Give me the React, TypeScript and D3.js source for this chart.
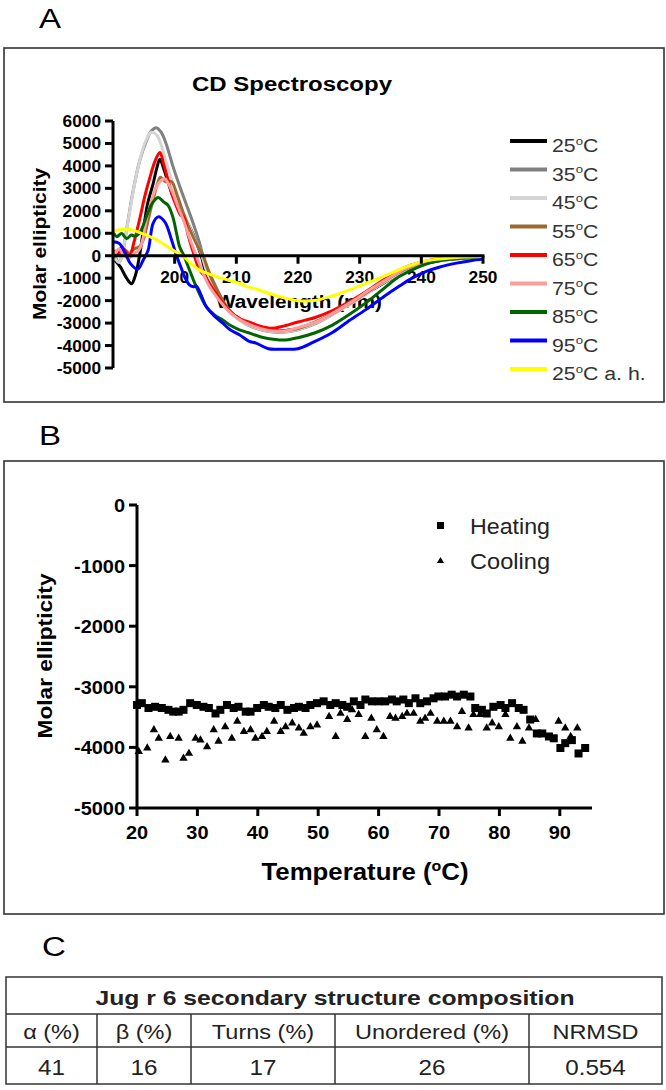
import React from 'react';
import * as d3 from 'd3';

// ---------- Panel A data (wavelength nm, molar ellipticity) ----------
const c25: [number, number][] = [[190.3,-200],[191.2,-500],[192.2,-1000],[193,-1250],[193.6,-900],[194.3,0],[195,1300],[195.6,2300],[196.5,3200],[197.1,3900],[197.6,4300],[198.2,3900],[198.9,3300],[199.8,2600],[200.8,2100],[202,1500],[203,950],[204.3,0],[205.2,-900],[206.5,-1600],[207.8,-2100],[209,-2500],[210.5,-2800],[212,-3050],[213.5,-3200],[215,-3300],[217,-3350],[219,-3300],[221,-3150],[223,-2950],[225,-2650],[228,-2200],[231,-1700],[234,-1200],[237,-700],[240,-400],[243,-220],[246,-130],[250,-60]];
const c35: [number, number][] = [[190.3,0],[191,-300],[191.6,200],[192.4,1500],[193.2,2800],[194.3,4200],[195.4,5100],[196.2,5550],[197,5700],[197.8,5500],[198.6,5000],[199.7,4000],[200.8,3100],[202,2200],[203,1450],[204,600],[204.6,0],[205.4,-600],[206.2,-1100],[207.8,-2000],[209,-2500],[210.5,-2850],[212,-3100],[214,-3300],[216,-3400],[218,-3400],[220,-3300],[223,-3000],[226,-2550],[229,-2050],[232,-1500],[235,-1000],[238,-550],[241,-300],[244,-170],[247,-100],[250,-50]];
const c45: [number, number][] = [[190.3,-100],[191,-300],[191.8,500],[192.6,1800],[193.5,3200],[194.3,4200],[195.3,5100],[196.2,5500],[197,5400],[197.6,5100],[198.6,4200],[199.7,3200],[201,2200],[202.4,1300],[203.5,600],[204.3,100],[205.2,-700],[206.5,-1500],[208,-2200],[209.5,-2650],[211,-2950],[213,-3200],[215,-3350],[217,-3400],[219,-3350],[221,-3200],[224,-2850],[227,-2400],[230,-1900],[233,-1350],[236,-850],[239,-450],[242,-250],[245,-150],[250,-60]];
const c55: [number, number][] = [[190.3,200],[191,0],[191.8,300],[192.6,100],[193.4,300],[194.3,400],[194.9,700],[195.8,1700],[196.5,2500],[197.2,3200],[197.7,3500],[198.5,3300],[199.5,3300],[200.4,2700],[201.4,1900],[202.4,1200],[203.5,550],[204.6,0],[205.5,-700],[206.8,-1500],[208,-2100],[209.5,-2600],[211,-2900],[213,-3150],[215,-3300],[217,-3350],[219,-3300],[221,-3150],[224,-2800],[227,-2350],[230,-1850],[233,-1300],[236,-800],[239,-420],[242,-230],[245,-130],[250,-50]];
const c65: [number, number][] = [[190.2,250],[190.8,0],[191.4,400],[192,200],[192.7,0],[193.4,600],[194.3,1600],[195.2,2700],[196,3500],[196.8,4200],[197.6,4600],[198.2,4100],[198.9,3400],[199.6,2700],[200.3,2200],[201,1800],[201.4,1750],[202.2,900],[203.2,0],[204,-600],[205.1,-1000],[206.5,-1600],[207.8,-2100],[209,-2500],[210.5,-2800],[212,-2950],[214,-3150],[215.8,-3230],[217.4,-3150],[220,-2950],[222.8,-2750],[225.5,-2450],[228.3,-2050],[231,-1600],[233.7,-1100],[236,-700],[238.5,-400],[241.8,-180],[245,-100],[247.3,-60],[250,-30]];
const c75: [number, number][] = [[190.3,100],[191,300],[191.8,0],[192.6,-100],[193.4,100],[194.2,250],[194.8,700],[195.4,1600],[196.2,2400],[197,3050],[197.8,3350],[198.4,3430],[199,3200],[199.7,2800],[200.5,2200],[201.4,1600],[202.4,800],[203.5,0],[204.5,-700],[205.5,-1300],[207,-1900],[208.5,-2400],[210,-2750],[212,-3050],[214,-3250],[216,-3350],[218,-3350],[220,-3200],[223,-2950],[226,-2500],[229,-2000],[232,-1450],[235,-950],[238,-500],[241,-250],[244,-130],[247,-80],[250,-40]];
const c85: [number, number][] = [[190,1070],[190.6,850],[191.4,990],[192.2,770],[193,920],[193.5,870],[194.3,1000],[195.4,1730],[196.3,2300],[197.3,2590],[198.2,2400],[198.9,2250],[199.7,1730],[200.3,1000],[200.8,400],[201.5,0],[202.2,-490],[203.5,-1380],[205.1,-2260],[206.5,-2650],[207.8,-2860],[209,-3100],[210.5,-3300],[212,-3430],[214,-3620],[216.3,-3730],[218,-3750],[220,-3650],[222.8,-3430],[225.5,-3100],[228.3,-2620],[231,-2100],[233.7,-1510],[236,-1000],[238,-700],[240,-450],[242.4,-250],[245,-150],[250,-60]];
const c95: [number, number][] = [[190,620],[191,550],[192,100],[192.8,-340],[194,-600],[194.9,-190],[195.7,250],[196.5,1440],[197.3,1730],[198.4,1510],[199.5,700],[200.3,0],[201,-500],[201.6,-930],[202.4,-1300],[203,-1380],[203.5,-1350],[204.2,-1700],[205.1,-2260],[206.5,-2700],[207.8,-3000],[209,-3300],[210.5,-3520],[212,-3800],[213.2,-3890],[215.2,-4140],[217,-4160],[220,-4140],[222.5,-3850],[225.5,-3430],[228,-2950],[231,-2400],[234,-1800],[236.4,-1360],[238.5,-1000],[240.8,-700],[243,-500],[245.7,-330],[248,-220],[250,-150]];
const c25ah: [number, number][] = [[190,1070],[190.8,1150],[191.6,1180],[192.4,1180],[193.2,1140],[194.3,1030],[195.4,920],[196.5,780],[197.6,620],[198.6,450],[199.7,250],[200.6,100],[201.4,-40],[202.6,-330],[204,-640],[205.4,-800],[206.8,-930],[208.6,-1080],[210.5,-1230],[212,-1400],[213.2,-1480],[215,-1650],[217.4,-1850],[220,-2000],[223,-1980],[225,-1830],[227,-1660],[229,-1450],[230.8,-1250],[232.6,-1070],[234.5,-850],[236.4,-620],[238.3,-420],[240.2,-250],[242.4,-160],[244.6,-100],[247,-60],[250,-30]];

const seriesTemps = ['25', '35', '45', '55', '65', '75', '85', '95', '25'];
const seriesSuffix = ['', '', '', '', '', '', '', '', ' a. h.'];
const seriesColors = ['#000000', '#808080', '#d4d4d4', '#9a6a30', '#ff0000', '#ff9c9c', '#006400', '#0000ff', '#ffff00'];
const seriesData = [c25, c35, c45, c55, c65, c75, c85, c95, c25ah];

const aYTicks = [6000, 5000, 4000, 3000, 2000, 1000, 0, -1000, -2000, -3000, -4000, -5000];
const aXTicks = [200, 210, 220, 230, 240, 250];

// ---------- Panel B data (temperature °C, molar ellipticity) ----------
const heating: [number, number][] = [[20,-3300],[20.8,-3270],[21.9,-3350],[23,-3330],[24.1,-3350],[25.2,-3380],[26,-3410],[26.9,-3410],[27.7,-3380],[28.8,-3270],[29.9,-3300],[31,-3330],[31.9,-3350],[33,-3440],[33.8,-3380],[34.9,-3300],[36,-3350],[36.8,-3330],[38,-3410],[38.8,-3410],[39.9,-3350],[41,-3300],[41.8,-3330],[42.9,-3350],[43.8,-3300],[44.9,-3380],[46,-3350],[46.8,-3330],[47.9,-3350],[48.7,-3300],[49.8,-3270],[50.9,-3240],[52,-3300],[52.9,-3270],[54,-3300],[54.8,-3330],[55.9,-3240],[57,-3300],[57.8,-3210],[58.9,-3240],[60,-3240],[61.1,-3240],[62.2,-3210],[63,-3240],[64.1,-3210],[65,-3270],[66.1,-3190],[66.9,-3270],[68,-3240],[69.1,-3190],[69.9,-3160],[71,-3160],[72.1,-3130],[73,-3160],[74.1,-3130],[75.2,-3160],[76,-3350],[77.1,-3380],[77.9,-3440],[79,-3330],[80.2,-3300],[81,-3350],[82.1,-3270],[83.2,-3350],[84,-3380],[85.1,-3540],[86.2,-3770],[87.1,-3770],[88.2,-3820],[89,-3850],[90.1,-4010],[90.9,-3930],[92,-3880],[93.1,-4100],[94.2,-4010]];
const cooling: [number, number][] = [[20.3,-4070],[21.7,-4010],[22.8,-3710],[23.6,-3850],[24.7,-4210],[25.5,-3820],[26.9,-3850],[27.7,-4180],[28.6,-4100],[29.7,-3850],[30.5,-3880],[31.6,-3990],[32.7,-3710],[33.5,-3900],[34.6,-3660],[35.7,-3850],[36.6,-3570],[37.7,-3740],[38.8,-3710],[39.6,-3850],[40.7,-3820],[41.5,-3740],[42.7,-3570],[43.8,-3740],[44.6,-3660],[45.7,-3600],[46.8,-3680],[47.6,-3770],[48.7,-3660],[49.8,-3630],[51.8,-3490],[52.9,-3820],[53.7,-3440],[54.8,-3540],[55.6,-3380],[56.7,-3460],[57.8,-3820],[58.8,-3520],[59.7,-3710],[60.8,-3820],[61.9,-3490],[62.8,-3520],[63.9,-3490],[64.7,-3440],[65.8,-3440],[66.9,-3570],[67.7,-3520],[68.6,-3440],[69.7,-3570],[70.8,-3570],[71.9,-3570],[73,-3660],[73.8,-3410],[74.9,-3680],[75.7,-3460],[76.8,-3460],[77.9,-3680],[78.8,-3600],[79.9,-3660],[81,-3460],[81.8,-3850],[82.9,-3660],[83.8,-3900],[84.9,-3680],[86,-3540],[89.8,-3570],[90.9,-3680],[91.8,-3820],[92.9,-3680]];
const bYTicks = [0, -1000, -2000, -3000, -4000, -5000];
const bXTicks = [20, 30, 40, 50, 60, 70, 80, 90];
const bLegend = ['Heating', 'Cooling'];

// ---------- Panel C data ----------
const tableTitle = 'Jug r 6 secondary structure composition';
const tableHeaders = ['\u03b1 (%)', '\u03b2 (%)', 'Turns (%)', 'Unordered (%)', 'NRMSD'];
const tableValues = ['41', '16', '17', '26', '0.554'];

const FONT = "Arial, 'Liberation Sans', sans-serif";

function Txt(props: { x: number; y: number; size: number; bold?: boolean; anchor?: string; sx?: number; fill?: string; len?: number; rotate?: number; children: React.ReactNode }) {
  const { x, y, size, bold, anchor = 'start', sx = 1, fill = '#000', len, rotate, children } = props;
  const tr = `translate(${x},${y})${rotate ? ` rotate(${rotate})` : ''}${sx !== 1 ? ` scale(${sx},1)` : ''}`;
  return (
    <text transform={tr} fontSize={size} fontWeight={bold ? 'bold' : 'normal'} textAnchor={anchor as any} fill={fill} fontFamily={FONT}
      {...(len ? { textLength: len, lengthAdjust: 'spacingAndGlyphs' } : {})}>
      {children}
    </text>
  );
}

function Deg({ size }: { size: number }) {
  const s = size * 0.38;
  return (
    <>
      <tspan fontSize={size * 0.62} dy={-s}>o</tspan>
      <tspan dy={s}>C</tspan>
    </>
  );
}

export default function App() {
  // Panel A scales
  const ax = d3.scaleLinear().domain([190, 250]).range([113, 483]);
  const ay = d3.scaleLinear().domain([-5000, 6000]).range([368, 121]);
  const lineA = d3.line<[number, number]>().x(d => ax(d[0])).y(d => ay(d[1])).curve(d3.curveCatmullRom.alpha(0.5));

  // Panel B scales
  const bx = d3.scaleLinear().domain([20, 95]).range([137, 590]);
  const by = d3.scaleLinear().domain([-5000, 0]).range([808, 505]);
  const tri = d3.symbol().type(d3.symbolTriangle).size(30)()!;
  const triLeg = d3.symbol().type(d3.symbolTriangle).size(22)()!;

  // Table geometry
  const colEdges = [6, 97, 191, 335, 529, 662];
  const rowEdges = [977, 1014, 1047, 1084];

  return (
    <svg width={666} height={1090} style={{ position: 'absolute', left: 0, top: 0, display: 'block', background: '#fff' }}>
      <rect x={0} y={0} width={666} height={1090} fill="#fff" />

      {/* ================= Panel A ================= */}
      <Txt x={39} y={28} size={28} sx={1.18}>A</Txt>
      <rect x={4} y={48} width={660} height={354} fill="none" stroke="#333" strokeWidth={1.6} />
      <Txt x={292} y={91} size={20} bold anchor="middle" len={200}>CD Spectroscopy</Txt>

      {/* y label */}
      <Txt x={46} y={244} size={18} bold anchor="middle" rotate={-90} len={152}>Molar ellipticity</Txt>
      {/* tick labels */}
      {aYTicks.map(t => (
        <Txt key={'ay' + t} x={101} y={ay(t) + 6} size={16} bold anchor="end" sx={1.08}>{String(t)}</Txt>
      ))}
      {aXTicks.map(t => (
        <Txt key={'ax' + t} x={ax(t)} y={283} size={16} bold anchor="middle" sx={1.08}>{String(t)}</Txt>
      ))}
      <Txt x={299} y={308} size={18} bold anchor="middle" len={166}>Wavelength (nm)</Txt>

      {/* curves */}
      {seriesData.map((d, i) => (
        <path key={'c' + i} d={lineA(d) || ''} fill="none" stroke={seriesColors[i]} strokeWidth={3} strokeLinejoin="round" />
      ))}

      {/* axes */}
      <line x1={ax(190)} x2={ax(190)} y1={ay(6000)} y2={ay(-5000)} stroke="#000" strokeWidth={3} />
      <line x1={ax(190)} x2={ax(250) + 1.5} y1={ay(0)} y2={ay(0)} stroke="#000" strokeWidth={3} />
      {aYTicks.map(t => (
        <line key={'ayt' + t} x1={ax(190) - 8} x2={ax(190)} y1={ay(t)} y2={ay(t)} stroke="#000" strokeWidth={3} />
      ))}
      {aXTicks.map(t => (
        <line key={'axt' + t} x1={ax(t)} x2={ax(t)} y1={ay(0)} y2={ay(0) + 8} stroke="#000" strokeWidth={3} />
      ))}

      {/* legend A */}
      {seriesTemps.map((t, i) => {
        const yy = 141 + i * 28.5;
        return (
          <g key={'lg' + i}>
            <line x1={510} x2={547} y1={yy} y2={yy} stroke={seriesColors[i]} strokeWidth={4} />
            <Txt x={552} y={yy + 11} size={19} sx={1.12} fill="#333">
              {t}<Deg size={19} />{seriesSuffix[i]}
            </Txt>
          </g>
        );
      })}

      {/* ================= Panel B ================= */}
      <Txt x={39} y={445} size={28} sx={1.18}>B</Txt>
      <rect x={4} y={461} width={660} height={453} fill="none" stroke="#333" strokeWidth={1.6} />

      <Txt x={52} y={656} size={21} bold anchor="middle" rotate={-90} len={165}>Molar ellipticity</Txt>
      {bYTicks.map(t => (
        <Txt key={'by' + t} x={125} y={by(t) + 7} size={19} bold anchor="end" sx={1.05}>{String(t)}</Txt>
      ))}
      {bXTicks.map(t => (
        <Txt key={'bx' + t} x={bx(t)} y={839} size={19} bold anchor="middle" sx={1.05}>{String(t)}</Txt>
      ))}
      <Txt x={365} y={880} size={23} bold anchor="middle" len={207}>
        Temperature (<Deg size={23} />)
      </Txt>

      {heating.map((d, i) => (
        <rect key={'h' + i} x={bx(d[0]) - 4} y={by(d[1]) - 4} width={8} height={8} fill="#000" />
      ))}
      {cooling.map((d, i) => (
        <path key={'k' + i} d={tri} transform={`translate(${bx(d[0])},${by(d[1])})`} fill="#000" />
      ))}

      <line x1={bx(20)} x2={bx(20)} y1={by(0)} y2={by(-5000)} stroke="#000" strokeWidth={3} />
      <line x1={bx(20)} x2={592} y1={by(-5000)} y2={by(-5000)} stroke="#000" strokeWidth={3} />
      {bYTicks.map(t => (
        <line key={'byt' + t} x1={bx(20) - 8} x2={bx(20)} y1={by(t)} y2={by(t)} stroke="#000" strokeWidth={3} />
      ))}
      {bXTicks.map(t => (
        <line key={'bxt' + t} x1={bx(t)} x2={bx(t)} y1={by(-5000)} y2={by(-5000) + 8} stroke="#000" strokeWidth={3} />
      ))}

      {/* legend B */}
      <rect x={437} y={522} width={7} height={7} fill="#000" />
      <Txt x={470} y={534} size={22} fill="#222" len={80}>{bLegend[0]}</Txt>
      <path d={triLeg} transform="translate(440.5,561)" fill="#000" />
      <Txt x={470} y={569} size={22} fill="#222" len={80}>{bLegend[1]}</Txt>

      {/* ================= Panel C ================= */}
      <Txt x={42} y={956} size={28} sx={1.18}>C</Txt>
      <g stroke="#333" strokeWidth={1.5} fill="none">
        <rect x={colEdges[0]} y={rowEdges[0]} width={colEdges[5] - colEdges[0]} height={rowEdges[3] - rowEdges[0]} />
        <line x1={colEdges[0]} x2={colEdges[5]} y1={rowEdges[1]} y2={rowEdges[1]} />
        <line x1={colEdges[0]} x2={colEdges[5]} y1={rowEdges[2]} y2={rowEdges[2]} />
        {colEdges.slice(1, 5).map(c => (
          <line key={'ce' + c} x1={c} x2={c} y1={rowEdges[1]} y2={rowEdges[3]} />
        ))}
      </g>
      <Txt x={335} y={1005} size={21} bold anchor="middle" len={479} fill="#222">{tableTitle}</Txt>
      {tableHeaders.map((h, i) => {
        const cx = (colEdges[i] + colEdges[i + 1]) / 2;
        return <Txt key={'th' + i} x={cx} y={1039} size={21} anchor="middle" sx={1.12} fill="#222">{h}</Txt>;
      })}
      {tableValues.map((v, i) => {
        const cx = (colEdges[i] + colEdges[i + 1]) / 2;
        return <Txt key={'tv' + i} x={cx} y={1075} size={22} anchor="middle" sx={1.1} fill="#222">{v}</Txt>;
      })}
    </svg>
  );
}
